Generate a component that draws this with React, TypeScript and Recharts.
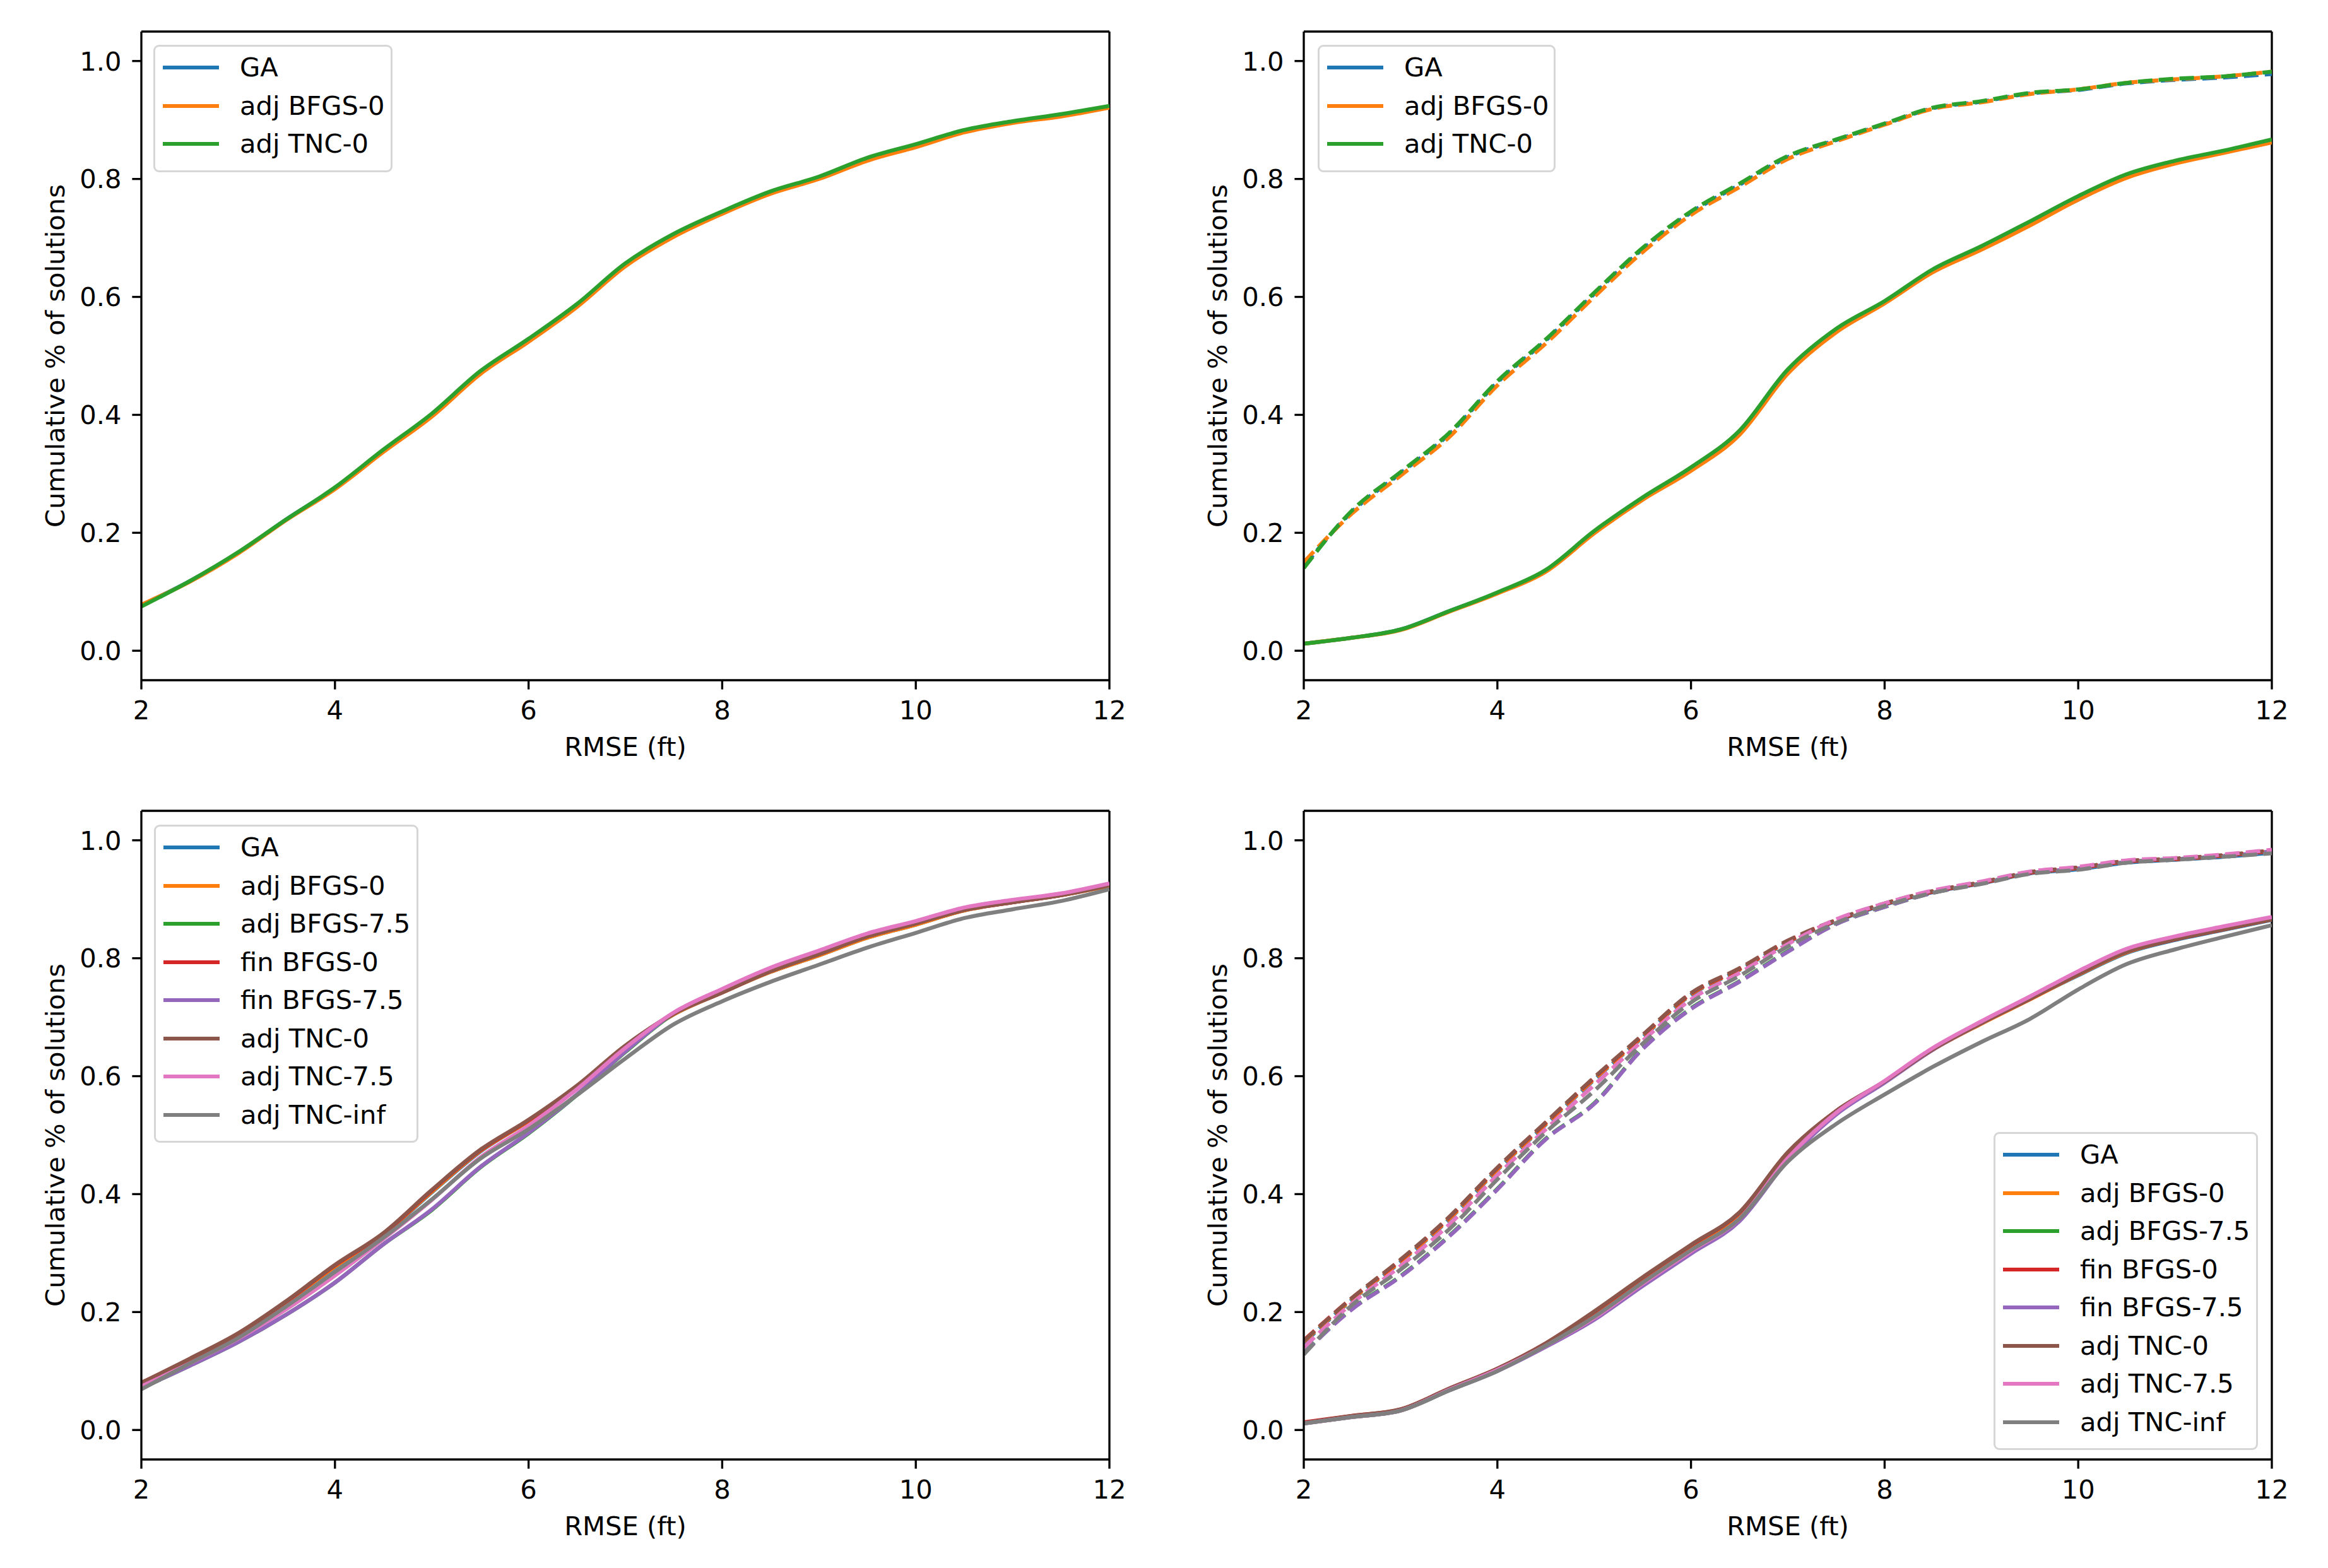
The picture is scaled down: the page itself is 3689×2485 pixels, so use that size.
import React from "react";
import { LineChart, Line, XAxis, YAxis, ReferenceLine } from "recharts";

// RMSE grid (ft) the curves were read at
const RMSE = [2, 2.5, 3, 3.5, 4, 4.5, 5, 5.5, 6, 6.5, 7, 7.5, 8, 8.5, 9, 9.5, 10, 10.5, 11, 11.5, 12];
const X_TICKS = [2, 4, 6, 8, 10, 12];
const Y_TICKS = [0, 0.2, 0.4, 0.6, 0.8, 1.0];

// top-left
const p1GA = [0.077, 0.118, 0.166, 0.223, 0.276, 0.340, 0.400, 0.472, 0.527, 0.586, 0.655, 0.705, 0.743, 0.777, 0.802, 0.833, 0.856, 0.881, 0.897, 0.908, 0.923];
const p1AdjBfgs0 = [0.078, 0.117, 0.165, 0.222, 0.274, 0.337, 0.397, 0.469, 0.524, 0.583, 0.652, 0.702, 0.741, 0.775, 0.800, 0.831, 0.854, 0.879, 0.895, 0.906, 0.921];
const p1AdjTnc0 = [0.075, 0.118, 0.167, 0.223, 0.277, 0.341, 0.402, 0.474, 0.529, 0.588, 0.657, 0.707, 0.745, 0.779, 0.804, 0.836, 0.859, 0.883, 0.898, 0.910, 0.924];

// top-right (solid + dashed)
const p2GA = [0.012, 0.022, 0.036, 0.067, 0.098, 0.136, 0.202, 0.259, 0.309, 0.371, 0.475, 0.544, 0.591, 0.645, 0.683, 0.725, 0.765, 0.804, 0.828, 0.846, 0.865];
const p2AdjBfgs0 = [0.012, 0.022, 0.035, 0.066, 0.097, 0.134, 0.199, 0.256, 0.305, 0.366, 0.470, 0.540, 0.589, 0.642, 0.680, 0.721, 0.765, 0.802, 0.826, 0.844, 0.862];
const p2AdjTnc0 = [0.012, 0.022, 0.036, 0.067, 0.099, 0.137, 0.203, 0.260, 0.311, 0.373, 0.477, 0.546, 0.593, 0.647, 0.686, 0.728, 0.771, 0.808, 0.831, 0.848, 0.867];
const p2GADash = [0.143, 0.236, 0.301, 0.367, 0.455, 0.526, 0.605, 0.681, 0.743, 0.790, 0.837, 0.866, 0.893, 0.920, 0.931, 0.945, 0.951, 0.962, 0.968, 0.972, 0.978];
const p2AdjBfgs0Dash = [0.150, 0.233, 0.297, 0.362, 0.450, 0.521, 0.600, 0.676, 0.739, 0.786, 0.834, 0.864, 0.892, 0.919, 0.930, 0.944, 0.952, 0.963, 0.969, 0.974, 0.982];
const p2AdjTnc0Dash = [0.140, 0.238, 0.303, 0.369, 0.457, 0.528, 0.607, 0.683, 0.745, 0.792, 0.839, 0.867, 0.894, 0.921, 0.932, 0.946, 0.952, 0.963, 0.970, 0.974, 0.982];

// bottom-left
const p3GA = [0.077, 0.118, 0.162, 0.217, 0.276, 0.331, 0.403, 0.472, 0.524, 0.582, 0.650, 0.705, 0.742, 0.777, 0.805, 0.835, 0.857, 0.881, 0.895, 0.907, 0.923];
const p3AdjBfgs0 = [0.078, 0.118, 0.162, 0.217, 0.277, 0.332, 0.404, 0.473, 0.524, 0.582, 0.650, 0.705, 0.742, 0.777, 0.805, 0.835, 0.857, 0.881, 0.895, 0.907, 0.923];
const p3AdjBfgs75 = [0.071, 0.109, 0.149, 0.196, 0.250, 0.315, 0.373, 0.445, 0.503, 0.568, 0.641, 0.706, 0.746, 0.782, 0.811, 0.840, 0.861, 0.884, 0.897, 0.908, 0.925];
const p3FinBfgs0 = [0.080, 0.120, 0.163, 0.218, 0.279, 0.333, 0.406, 0.474, 0.525, 0.583, 0.651, 0.706, 0.742, 0.778, 0.807, 0.837, 0.859, 0.882, 0.895, 0.907, 0.924];
const p3FinBfgs75 = [0.071, 0.109, 0.149, 0.196, 0.250, 0.315, 0.374, 0.446, 0.504, 0.569, 0.642, 0.707, 0.747, 0.783, 0.812, 0.841, 0.862, 0.885, 0.898, 0.909, 0.925];
const p3AdjTnc0 = [0.080, 0.121, 0.164, 0.219, 0.280, 0.334, 0.407, 0.475, 0.526, 0.584, 0.652, 0.706, 0.742, 0.778, 0.807, 0.837, 0.859, 0.882, 0.895, 0.907, 0.924];
const p3AdjTnc75 = [0.074, 0.113, 0.155, 0.205, 0.262, 0.324, 0.390, 0.462, 0.516, 0.578, 0.648, 0.708, 0.748, 0.784, 0.813, 0.842, 0.863, 0.886, 0.899, 0.910, 0.927];
const p3AdjTncInf = [0.069, 0.113, 0.156, 0.210, 0.268, 0.326, 0.391, 0.460, 0.510, 0.568, 0.630, 0.688, 0.727, 0.760, 0.789, 0.818, 0.843, 0.868, 0.883, 0.897, 0.917];

// bottom-right (solid + dashed)
const p4GA = [0.012, 0.023, 0.034, 0.069, 0.103, 0.146, 0.198, 0.256, 0.311, 0.366, 0.468, 0.540, 0.591, 0.646, 0.690, 0.731, 0.771, 0.809, 0.831, 0.848, 0.865];
const p4AdjBfgs0 = [0.012, 0.023, 0.034, 0.069, 0.102, 0.145, 0.197, 0.255, 0.310, 0.365, 0.467, 0.539, 0.590, 0.645, 0.689, 0.730, 0.772, 0.810, 0.832, 0.849, 0.866];
const p4AdjBfgs75 = [0.011, 0.022, 0.033, 0.067, 0.101, 0.142, 0.188, 0.245, 0.300, 0.355, 0.458, 0.536, 0.590, 0.646, 0.691, 0.733, 0.776, 0.814, 0.835, 0.852, 0.868];
const p4FinBfgs0 = [0.013, 0.024, 0.035, 0.070, 0.104, 0.147, 0.200, 0.258, 0.313, 0.368, 0.470, 0.541, 0.591, 0.646, 0.690, 0.731, 0.773, 0.811, 0.832, 0.849, 0.866];
const p4FinBfgs75 = [0.011, 0.022, 0.033, 0.067, 0.100, 0.141, 0.187, 0.244, 0.299, 0.354, 0.457, 0.535, 0.589, 0.645, 0.690, 0.732, 0.775, 0.813, 0.834, 0.851, 0.867];
const p4AdjTnc0 = [0.012, 0.024, 0.035, 0.070, 0.104, 0.147, 0.201, 0.259, 0.314, 0.369, 0.471, 0.541, 0.591, 0.646, 0.690, 0.731, 0.773, 0.811, 0.832, 0.849, 0.866];
const p4AdjTnc75 = [0.011, 0.022, 0.033, 0.068, 0.102, 0.143, 0.190, 0.248, 0.303, 0.358, 0.461, 0.538, 0.592, 0.648, 0.693, 0.735, 0.778, 0.816, 0.837, 0.854, 0.870];
const p4AdjTncInf = [0.011, 0.022, 0.033, 0.067, 0.100, 0.143, 0.192, 0.250, 0.305, 0.358, 0.455, 0.519, 0.569, 0.616, 0.658, 0.697, 0.747, 0.790, 0.815, 0.836, 0.856];
const p4GADash = [0.148, 0.221, 0.285, 0.357, 0.441, 0.518, 0.594, 0.666, 0.738, 0.780, 0.827, 0.863, 0.891, 0.912, 0.927, 0.944, 0.951, 0.962, 0.967, 0.972, 0.979];
const p4AdjBfgs0Dash = [0.150, 0.222, 0.286, 0.358, 0.442, 0.519, 0.595, 0.667, 0.739, 0.781, 0.828, 0.864, 0.892, 0.913, 0.928, 0.945, 0.953, 0.964, 0.968, 0.974, 0.982];
const p4AdjBfgs75Dash = [0.131, 0.206, 0.261, 0.329, 0.409, 0.494, 0.554, 0.647, 0.715, 0.761, 0.812, 0.858, 0.887, 0.911, 0.927, 0.944, 0.952, 0.963, 0.968, 0.973, 0.981];
const p4FinBfgs0Dash = [0.152, 0.224, 0.288, 0.360, 0.444, 0.521, 0.597, 0.669, 0.740, 0.782, 0.829, 0.864, 0.892, 0.913, 0.928, 0.945, 0.953, 0.964, 0.968, 0.974, 0.982];
const p4FinBfgs75Dash = [0.130, 0.205, 0.260, 0.328, 0.408, 0.493, 0.553, 0.646, 0.714, 0.760, 0.811, 0.858, 0.887, 0.911, 0.927, 0.944, 0.952, 0.963, 0.968, 0.973, 0.981];
const p4AdjTnc0Dash = [0.151, 0.224, 0.289, 0.361, 0.445, 0.522, 0.598, 0.670, 0.741, 0.783, 0.830, 0.865, 0.893, 0.914, 0.929, 0.946, 0.954, 0.965, 0.969, 0.975, 0.983];
const p4AdjTnc75Dash = [0.140, 0.215, 0.278, 0.348, 0.432, 0.510, 0.585, 0.660, 0.730, 0.775, 0.824, 0.866, 0.893, 0.915, 0.930, 0.947, 0.955, 0.966, 0.970, 0.976, 0.984];
const p4AdjTncInfDash = [0.128, 0.212, 0.272, 0.340, 0.425, 0.505, 0.575, 0.655, 0.725, 0.770, 0.820, 0.860, 0.889, 0.911, 0.926, 0.943, 0.950, 0.962, 0.967, 0.972, 0.978];

const C = {
  blue: "#1f77b4", orange: "#ff7f0e", green: "#2ca02c", red: "#d62728",
  purple: "#9467bd", brown: "#8c564b", pink: "#e377c2", gray: "#7f7f7f"
};

type Series = { name: string; color: string; values: number[]; dashed?: boolean };

const FONT = "'DejaVu Sans', sans-serif";
const FS = 41.67;
const LW = 6.25;
const SPINE = 3.33;
const TICK = 14.6;

// panel geometry (px): chart box 1844x1240, plot area 224..1758 x 50..1078
const PANEL_W = 1844;
const PANEL_H = 1240;
const Y_AXIS_W = 150;
const X_AXIS_H = 100;
const MARGIN = { top: 50, left: 224 - Y_AXIS_W, right: PANEL_W - 1758, bottom: PANEL_H - 1078 - X_AXIS_H };

const panels: { left: number; top: number; series: Series[]; legend: { left: number; top: number; width: number } }[] = [
  {
    left: 0, top: 0,
    legend: { left: 243, top: 71, width: 379 },
    series: [
      { name: "GA", color: C.blue, values: p1GA },
      { name: "adj BFGS-0", color: C.orange, values: p1AdjBfgs0 },
      { name: "adj TNC-0", color: C.green, values: p1AdjTnc0 }
    ]
  },
  {
    left: 1842, top: 0,
    legend: { left: 2088 - 1842, top: 71, width: 377 },
    series: [
      { name: "GA", color: C.blue, values: p2GA },
      { name: "GA", color: C.blue, values: p2GADash, dashed: true },
      { name: "adj BFGS-0", color: C.orange, values: p2AdjBfgs0 },
      { name: "adj BFGS-0", color: C.orange, values: p2AdjBfgs0Dash, dashed: true },
      { name: "adj TNC-0", color: C.green, values: p2AdjTnc0 },
      { name: "adj TNC-0", color: C.green, values: p2AdjTnc0Dash, dashed: true }
    ]
  },
  {
    left: 0, top: 1235,
    legend: { left: 244, top: 1307 - 1235, width: 419 },
    series: [
      { name: "GA", color: C.blue, values: p3GA },
      { name: "adj BFGS-0", color: C.orange, values: p3AdjBfgs0 },
      { name: "adj BFGS-7.5", color: C.green, values: p3AdjBfgs75 },
      { name: "fin BFGS-0", color: C.red, values: p3FinBfgs0 },
      { name: "fin BFGS-7.5", color: C.purple, values: p3FinBfgs75 },
      { name: "adj TNC-0", color: C.brown, values: p3AdjTnc0 },
      { name: "adj TNC-7.5", color: C.pink, values: p3AdjTnc75 },
      { name: "adj TNC-inf", color: C.gray, values: p3AdjTncInf }
    ]
  },
  {
    left: 1842, top: 1235,
    legend: { left: 3159 - 1842, top: 1794 - 1235, width: 419 },
    series: [
      { name: "GA", color: C.blue, values: p4GA },
      { name: "GA", color: C.blue, values: p4GADash, dashed: true },
      { name: "adj BFGS-0", color: C.orange, values: p4AdjBfgs0 },
      { name: "adj BFGS-0", color: C.orange, values: p4AdjBfgs0Dash, dashed: true },
      { name: "adj BFGS-7.5", color: C.green, values: p4AdjBfgs75 },
      { name: "adj BFGS-7.5", color: C.green, values: p4AdjBfgs75Dash, dashed: true },
      { name: "fin BFGS-0", color: C.red, values: p4FinBfgs0 },
      { name: "fin BFGS-0", color: C.red, values: p4FinBfgs0Dash, dashed: true },
      { name: "fin BFGS-7.5", color: C.purple, values: p4FinBfgs75 },
      { name: "fin BFGS-7.5", color: C.purple, values: p4FinBfgs75Dash, dashed: true },
      { name: "adj TNC-0", color: C.brown, values: p4AdjTnc0 },
      { name: "adj TNC-0", color: C.brown, values: p4AdjTnc0Dash, dashed: true },
      { name: "adj TNC-7.5", color: C.pink, values: p4AdjTnc75 },
      { name: "adj TNC-7.5", color: C.pink, values: p4AdjTnc75Dash, dashed: true },
      { name: "adj TNC-inf", color: C.gray, values: p4AdjTncInf },
      { name: "adj TNC-inf", color: C.gray, values: p4AdjTncInfDash, dashed: true }
    ]
  }
];

const tickStyle = { fill: "#000", fontSize: FS, fontFamily: FONT };
const axisLine = { stroke: "#000", strokeWidth: SPINE };
const tickLine = { stroke: "#000", strokeWidth: SPINE };

function LegendBox({ items, pos }: { items: Series[]; pos: { left: number; top: number; width: number } }) {
  return (
    <div
      style={{
        position: "absolute", left: pos.left, top: pos.top, width: pos.width, boxSizing: "border-box",
        border: "3.5px solid #d6d6d6", borderRadius: 9, background: "rgba(255,255,255,0.8)",
        padding: "3px 0 11px 12px", fontFamily: FONT, fontSize: FS, color: "#000"
      }}
    >
      {items.map((s) => (
        <div key={s.name} style={{ display: "flex", alignItems: "center", height: 60.5 }}>
          <div style={{ width: 89, height: LW, background: s.color, marginRight: 33, flex: "none" }} />
          <span style={{ whiteSpace: "nowrap", lineHeight: 1 }}>{s.name}</span>
        </div>
      ))}
    </div>
  );
}

function Panel({ p }: { p: (typeof panels)[number] }) {
  const data = RMSE.map((x, i) => {
    const row: Record<string, number> = { x };
    p.series.forEach((s, j) => (row["s" + j] = s.values[i]));
    return row;
  });
  const legendItems = p.series.filter((s) => !s.dashed);
  return (
    <div style={{ position: "absolute", left: p.left, top: p.top, width: PANEL_W, height: PANEL_H }}>
      <LineChart width={PANEL_W} height={PANEL_H} data={data} margin={MARGIN}>
        <XAxis
          dataKey="x" type="number" domain={[2, 12]} ticks={X_TICKS} allowDataOverflow
          height={X_AXIS_H} tick={tickStyle} tickSize={TICK} tickMargin={17.5}
          axisLine={axisLine} tickLine={tickLine} interval={0}
        />
        <YAxis
          type="number" domain={[-0.05, 1.05]} ticks={Y_TICKS} allowDataOverflow
          width={Y_AXIS_W} tick={tickStyle} tickSize={TICK} tickMargin={17}
          axisLine={axisLine} tickLine={tickLine} interval={0}
          tickFormatter={(v: number) => v.toFixed(1)}
        />
        <ReferenceLine y={1.05} stroke="#000" strokeWidth={SPINE} />
        <ReferenceLine x={12} stroke="#000" strokeWidth={SPINE} />
        {p.series.map((s, j) => (
          <Line
            key={j} dataKey={"s" + j} name={s.name} type="monotone" stroke={s.color}
            strokeWidth={LW} strokeDasharray={s.dashed ? "23 10" : undefined}
            dot={false} activeDot={false} isAnimationActive={false}
          />
        ))}
      </LineChart>
      <LegendBox items={legendItems} pos={p.legend} />
      <div
        style={{
          position: "absolute", left: 991, top: 1184, transform: "translate(-50%, -50%)",
          fontFamily: FONT, fontSize: FS, whiteSpace: "nowrap", lineHeight: 1
        }}
      >
        RMSE (ft)
      </div>
      <div
        style={{
          position: "absolute", left: 88, top: 564, transform: "translate(-50%, -50%) rotate(-90deg)",
          fontFamily: FONT, fontSize: FS, whiteSpace: "nowrap", lineHeight: 1
        }}
      >
        Cumulative % of solutions
      </div>
    </div>
  );
}

export default function App() {
  return (
    <div style={{ position: "relative", width: 3689, height: 2485, background: "#fff", overflow: "hidden" }}>
      <style>{"body{margin:0}"}</style>
      {panels.map((p, i) => (
        <Panel key={i} p={p} />
      ))}
    </div>
  );
}
